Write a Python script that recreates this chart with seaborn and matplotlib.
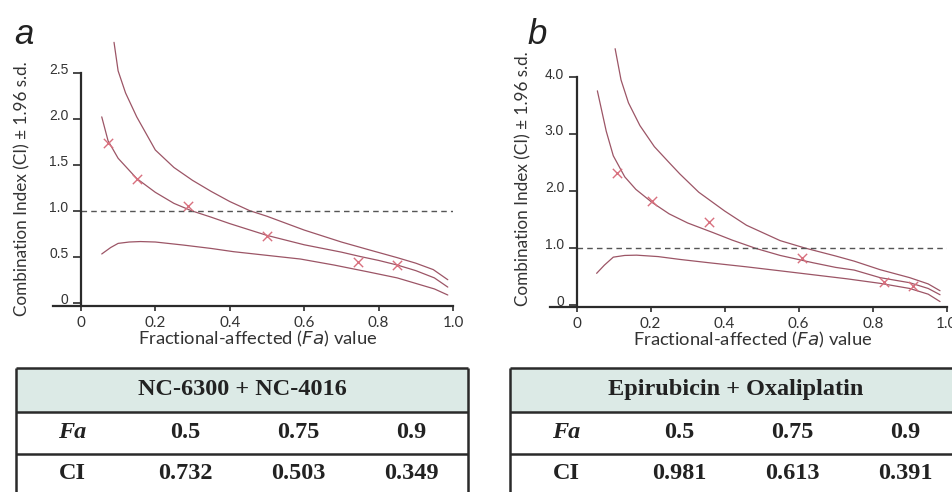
import matplotlib
matplotlib.use("Agg")
import matplotlib.pyplot as plt
import matplotlib.transforms as mtransforms
from matplotlib.patches import Rectangle
import seaborn as sns

# ── Data ──────────────────────────────────────────────────────────────────────
# Panel a: NC-6300 + NC-4016
a_mid_x = [0.056, 0.073, 0.10, 0.15, 0.20, 0.25, 0.297, 0.35, 0.40, 0.50, 0.60, 0.70, 0.75, 0.80, 0.85, 0.90, 0.95, 0.986]
a_mid_y = [2.02, 1.76, 1.57, 1.35, 1.20, 1.08, 1.00, 0.93, 0.86, 0.732, 0.63, 0.55, 0.503, 0.46, 0.41, 0.349, 0.27, 0.17]
a_up_x = [0.089, 0.10, 0.12, 0.15, 0.20, 0.25, 0.30, 0.35, 0.40, 0.454, 0.50, 0.60, 0.70, 0.77, 0.85, 0.90, 0.947, 0.986]
a_up_y = [2.83, 2.52, 2.28, 2.02, 1.66, 1.47, 1.33, 1.21, 1.10, 1.00, 0.94, 0.79, 0.66, 0.58, 0.49, 0.43, 0.36, 0.25]
a_lo_x = [0.056, 0.08, 0.10, 0.13, 0.16, 0.20, 0.275, 0.35, 0.41, 0.50, 0.59, 0.68, 0.77, 0.85, 0.90, 0.95, 0.986]
a_lo_y = [0.53, 0.60, 0.645, 0.66, 0.665, 0.66, 0.627, 0.59, 0.555, 0.515, 0.475, 0.41, 0.337, 0.27, 0.21, 0.15, 0.084]
a_pts_x = [0.073, 0.15, 0.287, 0.499, 0.746, 0.849]
a_pts_y = [1.74, 1.35, 1.05, 0.73, 0.44, 0.41]

# Panel b: Epirubicin + Oxaliplatin
b_mid_x = [0.056, 0.08, 0.099, 0.13, 0.16, 0.204, 0.25, 0.30, 0.369, 0.42, 0.486, 0.55, 0.64, 0.70, 0.75, 0.82, 0.90, 0.95, 0.982]
b_mid_y = [3.76, 3.05, 2.62, 2.25, 2.03, 1.80, 1.60, 1.44, 1.27, 1.14, 0.99, 0.87, 0.74, 0.66, 0.613, 0.48, 0.391, 0.29, 0.18]
b_up_x = [0.104, 0.12, 0.14, 0.171, 0.21, 0.25, 0.279, 0.33, 0.40, 0.459, 0.55, 0.617, 0.70, 0.75, 0.82, 0.90, 0.95, 0.982]
b_up_y = [4.50, 3.95, 3.55, 3.15, 2.78, 2.50, 2.30, 1.98, 1.65, 1.40, 1.13, 1.00, 0.86, 0.77, 0.62, 0.48, 0.37, 0.25]
b_lo_x = [0.054, 0.075, 0.099, 0.13, 0.162, 0.22, 0.279, 0.36, 0.459, 0.55, 0.64, 0.73, 0.82, 0.90, 0.95, 0.982]
b_lo_y = [0.556, 0.70, 0.84, 0.87, 0.875, 0.85, 0.80, 0.74, 0.67, 0.60, 0.53, 0.46, 0.38, 0.29, 0.19, 0.06]
b_pts_x = [0.108, 0.204, 0.357, 0.608, 0.83, 0.91]
b_pts_y = [2.32, 1.82, 1.46, 0.82, 0.41, 0.33]

additive_ci = 1.0

x_ticks = [0, 0.2, 0.4, 0.6, 0.8, 1.0]
x_ticklabels = ["0", "0.2", "0.4", "0.6", "0.8", "1.0"]
a_y_ticks = [0, 0.5, 1.0, 1.5, 2.0, 2.5]
a_y_ticklabels = ["0", "0.5", "1.0", "1.5", "2.0", "2.5"]
b_y_ticks = [0, 1.0, 2.0, 3.0, 4.0]
b_y_ticklabels = ["0", "1.0", "2.0", "3.0", "4.0"]

combos = ["NC-6300 + NC-4016", "Epirubicin + Oxaliplatin"]
fa_levels = ["0.5", "0.75", "0.9"]
ci_a = ["0.732", "0.503", "0.349"]
ci_b = ["0.981", "0.613", "0.391"]

# ── Style ─────────────────────────────────────────────────────────────────────
sns.set_theme(style="white")
plt.rcParams["font.family"] = ["DejaVu Sans"]

W, H = 953, 492
CURVE = "#9c5566"
MARK = "#d8707e"
AXC = "#2b2b2b"


def px_rect(x0, y0, x1, y1):
    return [x0 / W, 1 - y1 / H, (x1 - x0) / W, (y1 - y0) / H]


fig = plt.figure(figsize=(W / 100, H / 100), dpi=100)
fig.patch.set_facecolor("white")


def draw_panel(rect, xlim, ylim, ytop, curves, px, py, yt, ytl):
    ax = fig.add_axes(rect)
    for cx, cy in curves:
        sns.lineplot(x=cx, y=cy, ax=ax, color=CURVE, lw=0.9, sort=False, estimator=None)
    sns.scatterplot(x=px, y=py, ax=ax, marker="x", color=MARK, s=45, linewidth=1.0, zorder=4)
    ax.hlines(additive_ci, 0, 1.0, colors="#555555", lw=1.0, linestyles=(0, (4, 3)))
    ax.set_xlim(*xlim)
    ax.set_ylim(*ylim)
    ax.set_facecolor("white")
    ax.patch.set_alpha(0)
    for s in ["top", "right"]:
        ax.spines[s].set_visible(False)
    for s in ["left", "bottom"]:
        ax.spines[s].set_color(AXC)
        ax.spines[s].set_linewidth(1.6)
    ax.spines["left"].set_position(("data", 0))
    ax.spines["left"].set_bounds(ylim[0], ytop)
    ax.set_xticks(x_ticks)
    ax.set_xticklabels(x_ticklabels, fontfamily="Lato", fontsize=11, color="#333333")
    ax.set_yticks(yt)
    ax.set_yticklabels(ytl, fontfamily="Liberation Sans", fontsize=10, color="#333333")
    ax.tick_params(axis="y", direction="out", length=6, width=1.2, color=AXC, pad=3, left=True)
    ax.tick_params(axis="x", direction="out", length=3.5, width=1.2, color=AXC, pad=4, bottom=True)
    shift = mtransforms.ScaledTranslation(0, 3 / 72, fig.dpi_scale_trans)
    for lab in ax.get_yticklabels():
        lab.set_transform(lab.get_transform() + shift)
    ax.grid(False)
    return ax


ax_a = draw_panel(px_rect(53, 35.9, 453, 305.5), (-0.075, 1.0), (-0.03, 2.9), 2.5,
                  [(a_up_x, a_up_y), (a_mid_x, a_mid_y), (a_lo_x, a_lo_y)],
                  a_pts_x, a_pts_y, a_y_ticks, a_y_ticklabels)
ax_b = draw_panel(px_rect(550, 43, 946.7, 306.7), (-0.072, 1.0), (-0.03, 4.6), 4.0,
                  [(b_up_x, b_up_y), (b_mid_x, b_mid_y), (b_lo_x, b_lo_y)],
                  b_pts_x, b_pts_y, b_y_ticks, b_y_ticklabels)

# ── Overlay for labels and tables (pixel coordinates) ─────────────────────────
ov = fig.add_axes([0, 0, 1, 1], zorder=-1)
ov.set_xlim(0, W)
ov.set_ylim(H, 0)
ov.axis("off")

ylab = "Combination Index (CI) ± 1.96 s.d."
xlab = "Fractional-affected ($\\it{Fa}$) value"
for (lx, ly), (xx, xy), (px_, py_), letter in [((22, 189), (258, 339), (24, 44), "a"),
                                                ((523, 179), (753, 340), (537, 44), "b")]:
    ov.text(lx, ly, ylab, rotation=90, ha="center", va="center",
            fontfamily="Lato", fontsize=12.3, color="#333333")
    ov.text(xx, xy, xlab, ha="center", va="center",
            fontfamily="Lato", fontsize=13.2, color="#333333")
    ov.text(px_, py_, letter, ha="center", va="baseline", style="italic",
            fontfamily="Liberation Sans", fontsize=25, color="#222222")

# ── Tables ────────────────────────────────────────────────────────────────────
ROWS = [368, 411.5, 454, 497]
COLW = 113
tfont = dict(fontfamily="Liberation Serif", fontweight="bold", fontsize=17.5, color="#222222",
             ha="center", va="center")
for left, title, ci in [(16, combos[0], ci_a), (510, combos[1], ci_b)]:
    right = left + 4 * COLW
    ov.add_patch(Rectangle((left, ROWS[0]), 4 * COLW, ROWS[1] - ROWS[0],
                           facecolor="#dceae6", edgecolor="none"))
    ov.hlines(ROWS[:3], left, right, colors="#2a2a2a", lw=1.8)
    ov.vlines([left, right], ROWS[0], ROWS[3], colors="#2a2a2a", lw=1.8)
    ov.text((left + right) / 2, (ROWS[0] + ROWS[1]) / 2, title, **tfont)
    yr2 = (ROWS[1] + ROWS[2]) / 2
    yr3 = (ROWS[2] + ROWS[3]) / 2 - 2
    ov.text(left + COLW / 2, yr2, "Fa", style="italic", **tfont)
    ov.text(left + COLW / 2, yr3, "CI", **tfont)
    for i, (fa, c) in enumerate(zip(fa_levels, ci)):
        cx = left + COLW * (i + 1.5)
        ov.text(cx, yr2, fa, **tfont)
        ov.text(cx, yr3, c, **tfont)

fig.savefig("out.png", dpi=100)
